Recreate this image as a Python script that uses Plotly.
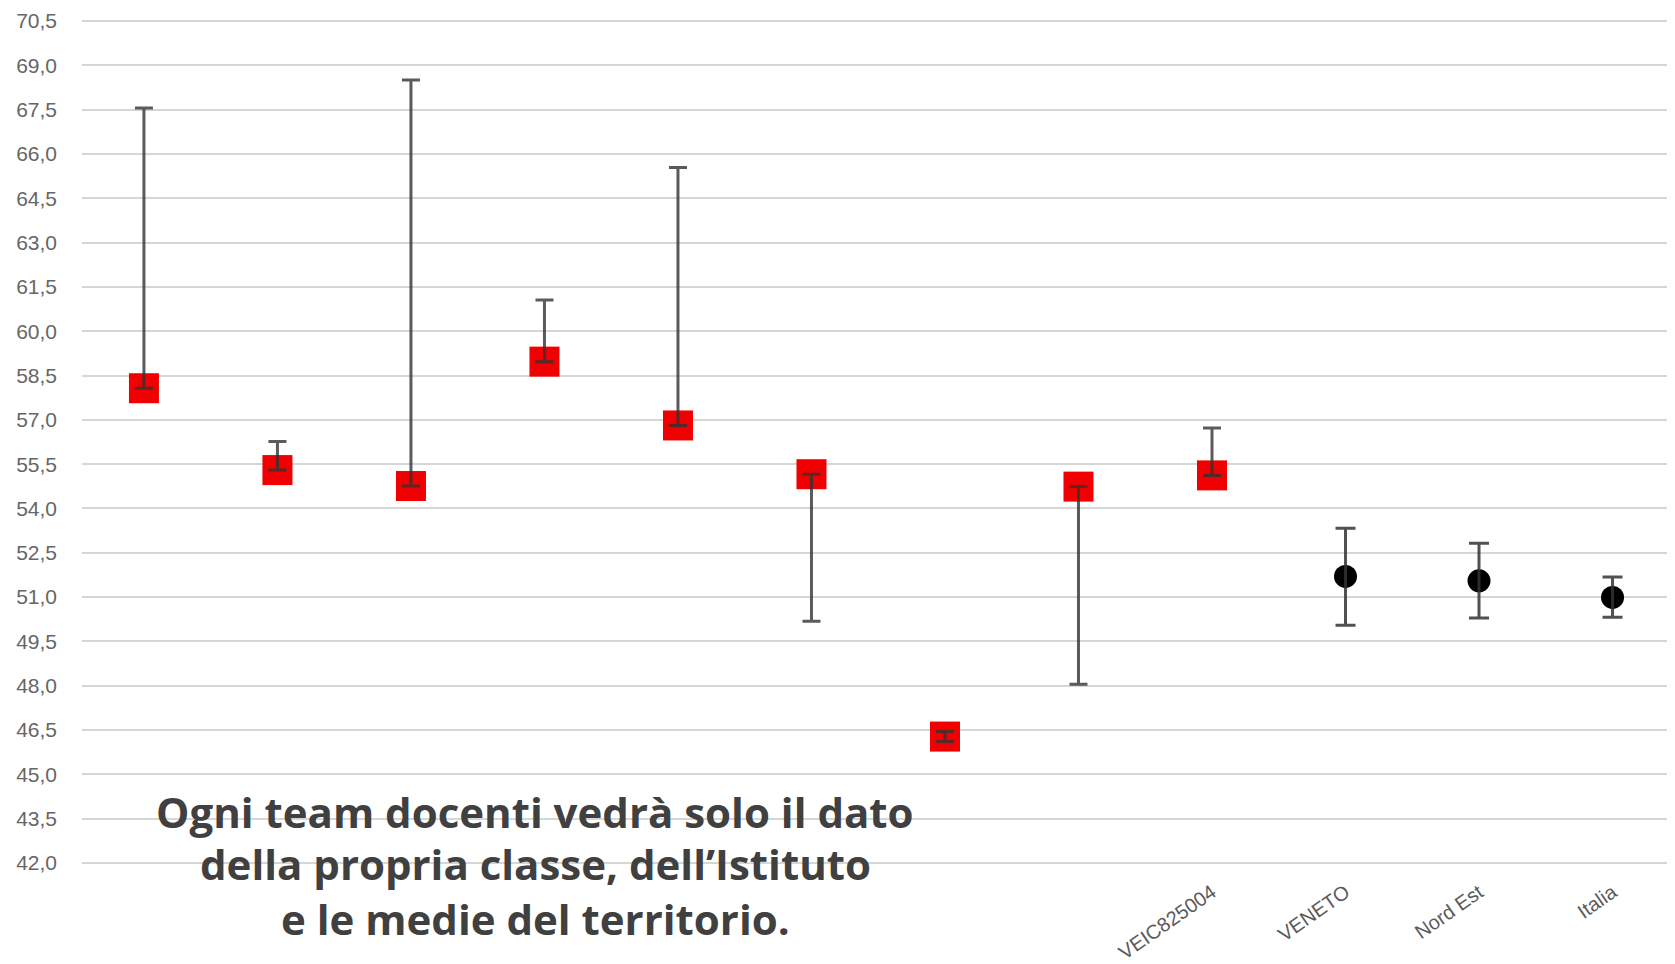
import plotly.graph_objects as go

categories = ["Classe 1", "Classe 2", "Classe 3", "Classe 4", "Classe 5", "Classe 6",
              "Classe 7", "Classe 8", "VEIC825004", "VENETO", "Nord Est", "Italia"]
tick_labels = ["", "", "", "", "", "", "", "", "VEIC825004", "VENETO", "Nord Est", "Italia"]
means = [58.07, 55.30, 54.76, 58.97, 56.81, 55.16, 46.28, 54.74, 55.12, 51.70, 51.55, 50.99]
upper = [67.55, 56.27, 68.50, 61.06, 65.54, 55.16, 46.45, 54.74, 56.72, 53.33, 52.82, 51.68]
lower = [58.07, 55.30, 54.76, 58.97, 56.81, 50.18, 46.11, 48.05, 55.12, 50.05, 50.29, 50.32]
y_ticks = [42.0 + 1.5 * i for i in range(20)]
note_lines = ["Ogni team docenti vedrà solo il dato",
              "della propria classe, dell’Istituto",
              "e le medie del territorio."]

n_red = 9
err_plus = [u - m for u, m in zip(upper, means)]
err_minus = [m - l for m, l in zip(means, lower)]

W, H = 1667, 956
L, R, T, B = 74, 0, 10, 95
plot_h = H - T - B
plot_w = W - L - R

fig = go.Figure()
fig.add_trace(go.Scatter(
    x=categories[:n_red], y=means[:n_red], mode="markers",
    marker=dict(symbol="square", size=30, color="#f00000", line=dict(width=0)),
    showlegend=False, hoverinfo="skip"))
fig.add_trace(go.Scatter(
    x=categories[n_red:], y=means[n_red:], mode="markers",
    marker=dict(symbol="circle", size=23, color="#000000", line=dict(width=0)),
    showlegend=False, hoverinfo="skip"))
fig.add_trace(go.Scatter(
    x=categories[:n_red], y=means[:n_red], mode="markers",
    marker=dict(size=1, opacity=0),
    error_y=dict(type="data", symmetric=False, array=err_plus[:n_red],
                 arrayminus=err_minus[:n_red], color="rgba(50,50,50,0.8)",
                 thickness=3, width=9),
    showlegend=False, hoverinfo="skip"))
fig.add_trace(go.Scatter(
    x=categories[n_red:], y=means[n_red:], mode="markers",
    marker=dict(size=1, opacity=0),
    error_y=dict(type="data", symmetric=False, array=err_plus[n_red:],
                 arrayminus=err_minus[n_red:], color="rgba(50,50,50,0.85)",
                 thickness=3, width=10),
    showlegend=False, hoverinfo="skip"))

line_px = [806, 858, 914]
for txt, py in zip(note_lines, line_px):
    fig.add_annotation(
        x=(527 - L) / plot_w, xref="paper", y=(H - B - py) / plot_h, yref="paper",
        xanchor="center", yanchor="middle",
        text=txt, showarrow=False, align="center",
        font=dict(family="Open Sans", size=42, color="#404040", weight="bold"),
    )

fig.update_layout(
    width=W, height=H,
    margin=dict(l=L, r=R, t=T, b=B),
    paper_bgcolor="white", plot_bgcolor="white",
    separators=",.",
    xaxis=dict(type="category", categoryorder="array", categoryarray=categories,
               tickvals=categories, ticktext=tick_labels,
               range=[-0.464, 11.468], showgrid=False, zeroline=False, showline=False,
               tickangle=-35, tickfont=dict(family="Liberation Sans", size=20, color="#5a5a5a"),
               ticks="", ticklabelstandoff=10),
    yaxis=dict(range=[41.9, 70.6], tickvals=y_ticks, tickformat=".1f",
               showgrid=True, gridcolor="#d6d6d6", gridwidth=2, zeroline=False,
               showline=False, ticks="", ticklabelstandoff=24,
               tickfont=dict(family="Liberation Sans", size=21, color="#666666")),
)

fig.write_html("out.html")
